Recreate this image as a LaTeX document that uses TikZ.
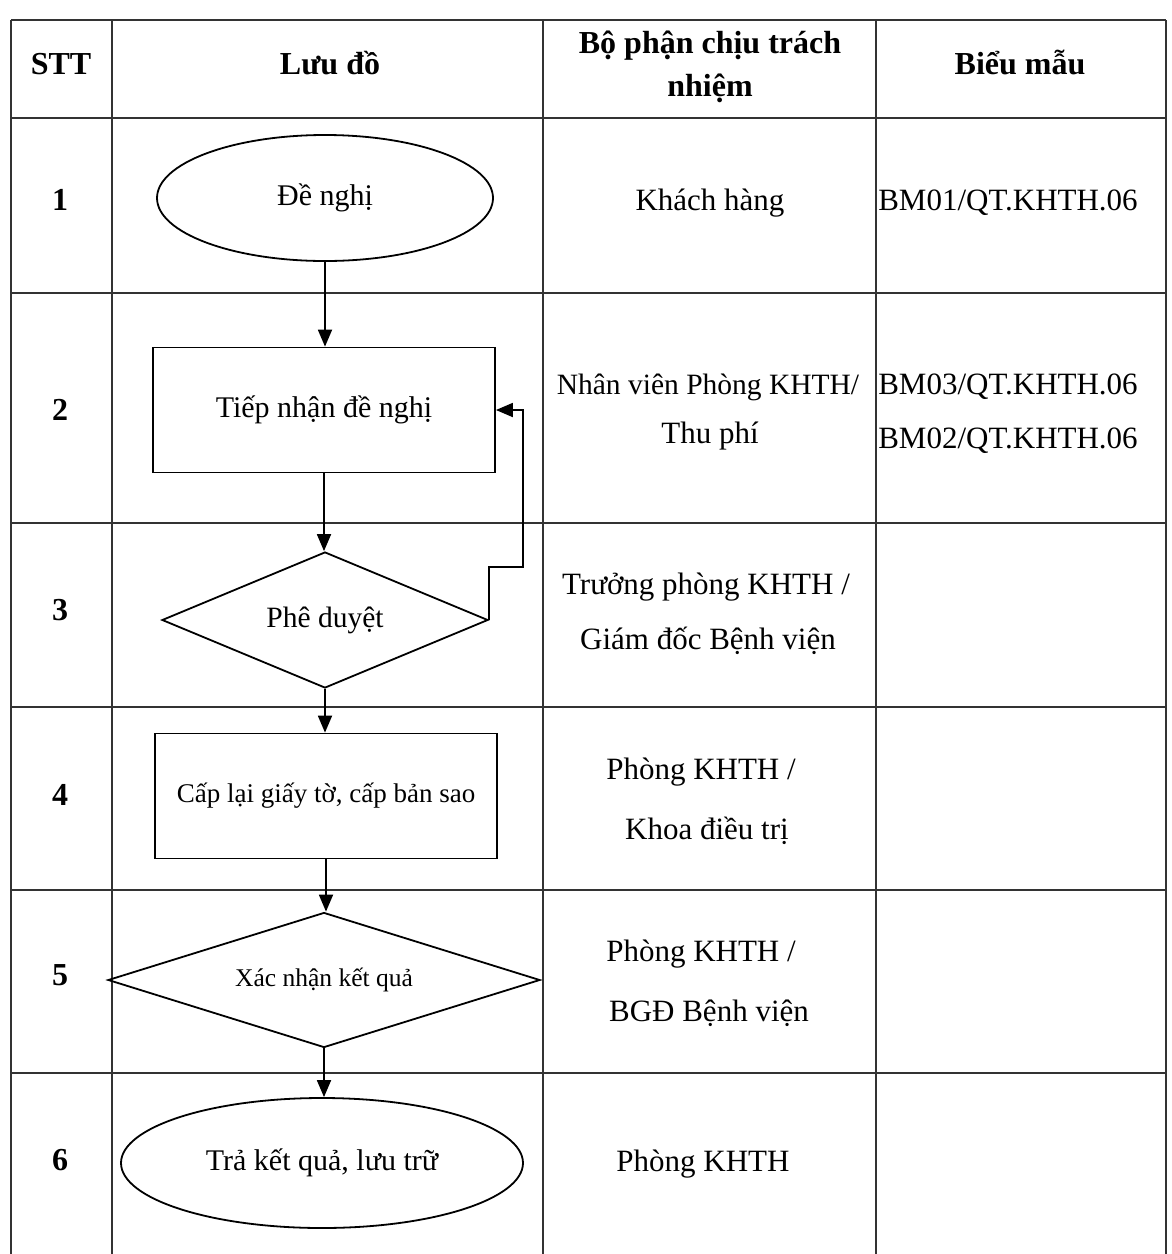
\documentclass[tikz,border=0pt]{standalone}
\usepackage{fontspec}
\setmainfont{Liberation Serif}
\usetikzlibrary{shapes.geometric,arrows.meta}
\begin{document}
\begin{tikzpicture}[x=1pt,y=-1pt,
  grid/.style={line width=1.5pt,draw=black!80},
  shp/.style={draw,line width=1.8pt,inner sep=0pt,align=center},
  txt/.style={inner sep=0pt,text height=0.7em,text depth=0.2em,font=\fontsize{31}{36}\selectfont},
  hdr/.style={inner sep=0pt,text height=0.7em,text depth=0.2em,font=\fontsize{32}{38}\selectfont\bfseries},
  flow/.style={line width=1.8pt,-{Triangle[length=17pt,width=14pt]}},
  ln/.style={line width=1.8pt}
]
\useasboundingbox[fill=white] (0,0) rectangle (1172,1254);
% table grid
\foreach \y in {20,118,293,523,707,890,1073}{\draw[grid] (11,\y) -- (1166,\y);}
\foreach \x in {11,112,543,876,1166}{\draw[grid] (\x,20) -- (\x,1254);}
% header
\node[hdr] (h1) at (61,72) {STT};
\node[hdr] (h2) at (330,72) {Lưu đồ};
\node[hdr] (h3a) at (710,51) {Bộ phận chịu trách};
\node[hdr] (h3b) at (710,94) {nhiệm};
\node[hdr] (h4) at (1020,72) {Biểu mẫu};
% numbers
\node[hdr] (n1) at (60,208) {1};
\node[hdr] (n2) at (60,418) {2};
\node[hdr] (n3) at (60,618) {3};
\node[hdr] (n4) at (60,803) {4};
\node[hdr] (n5) at (60,983) {5};
\node[hdr] (n6) at (60,1168) {6};
% flowchart shapes
\node[shp,ellipse,minimum width=336pt,minimum height=126pt,font=\fontsize{30}{36}\selectfont] (e1) at (325,198) {Đề nghị};
\node[shp,rectangle,minimum width=342pt,minimum height=125pt,font=\fontsize{30}{36}\selectfont] (r2) at (324,410) {Tiếp nhận đề nghị};
\node[shp,diamond,aspect=2.4,minimum width=326pt,minimum height=136pt,font=\fontsize{29.5}{36}\selectfont] (d3) at (325,620) {\raisebox{-8pt}{Phê duyệt}};
\node[shp,rectangle,minimum width=342pt,minimum height=125pt,font=\fontsize{27}{32}\selectfont] (r4) at (326,796) {\raisebox{-4pt}{Cấp lại giấy tờ, cấp bản sao}};
\node[shp,diamond,aspect=3.2,minimum width=432pt,minimum height=135pt,font=\fontsize{25.5}{30}\selectfont] (d5) at (324,980) {\raisebox{-6pt}{Xác nhận kết quả}};
\node[shp,ellipse,minimum width=402pt,minimum height=130pt,font=\fontsize{30}{36}\selectfont] (e6) at (322,1163) {Trả kết quả, lưu trữ};
% connectors
\draw[flow] (e1.south) -- (e1.south |- r2.north);
\draw[flow] (r2.south) -- (r2.south |- d3.north);
\draw[flow] (d3.south) -- (d3.south |- r4.north);
\draw[flow] (r4.south) -- (r4.south |- d5.north);
\draw[flow] (d5.south) -- (d5.south |- e6.north);
\coordinate (fb1) at (491,567);
\coordinate (fb2) at (523,567);
\draw[flow] (d3.east) -- (d3.east |- fb1) -- (fb2) |- (r2.east);
% column 3
\node[txt] (c31) at (710,208) {Khách hàng};
\node[txt,font=\fontsize{29.5}{36}\selectfont] (c32a) at (708,392) {Nhân viên Phòng KHTH/};
\node[txt] (c32b) at (710,441) {Thu phí};
\node[txt] (c33a) at (706,592) {Trưởng phòng KHTH /};
\node[txt] (c33b) at (708,647) {Giám đốc Bệnh viện};
\node[txt] (c34a) at (701,777) {Phòng KHTH /};
\node[txt] (c34b) at (707,837) {Khoa điều trị};
\node[txt] (c35a) at (701,959) {Phòng KHTH /};
\node[txt] (c35b) at (709,1019) {BGĐ Bệnh viện};
\node[txt] (c36) at (703,1169) {Phòng KHTH};
% column 4
\node[txt] (c41) at (1008,208) {BM01/QT.KHTH.06};
\node[txt] (c42a) at (1008,392) {BM03/QT.KHTH.06};
\node[txt] (c42b) at (1008,446) {BM02/QT.KHTH.06};
\end{tikzpicture}
\end{document}
